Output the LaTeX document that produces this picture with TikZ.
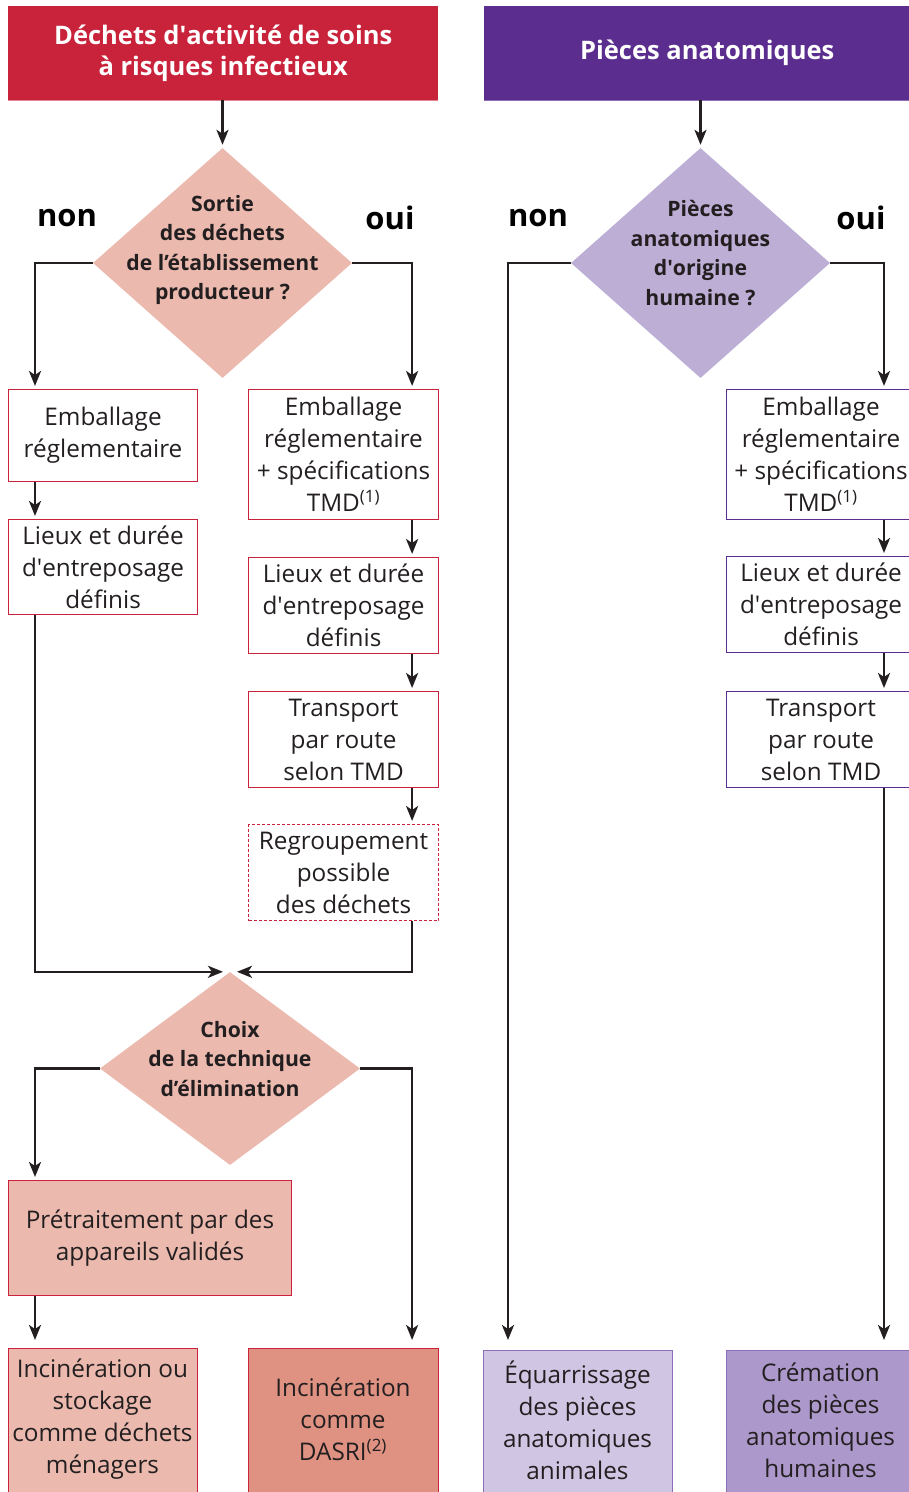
\documentclass[tikz,border=0pt]{standalone}
\usepackage{fontspec}
\setmainfont{Open Sans}
\usetikzlibrary{shapes.geometric,arrows.meta,calc}
\definecolor{redA}{HTML}{C8233A}
\definecolor{purA}{HTML}{5B2D8E}
\definecolor{purB}{HTML}{8C6FB8}
\definecolor{pinkA}{HTML}{EBB9AE}
\definecolor{pinkB}{HTML}{E09282}
\definecolor{lavA}{HTML}{BCAED4}
\definecolor{lavB}{HTML}{D0C6E3}
\definecolor{lavC}{HTML}{AC98CA}
\definecolor{ink}{HTML}{231F20}
\newcommand{\sq}{\textquotesingle}
\begin{document}
\begin{tikzpicture}[x=1pt,y=-1pt,
  boxtxt/.style={font=\fontsize{24.3}{32}\selectfont,text=ink,align=center},
  rbox/.style={boxtxt,draw=redA,line width=1.1pt,inner sep=0pt,anchor=north west,minimum width=189pt},
  pbox/.style={boxtxt,draw=purA,line width=1.1pt,inner sep=0pt,anchor=north west,minimum width=189pt},
  header/.style={inner sep=0pt,anchor=north west,text=white,align=center,font=\bfseries\fontsize{25.5}{31}\selectfont},
  dia/.style={diamond,inner sep=0pt,draw=none},
  diatxt/.style={font=\bfseries\fontsize{21.2}{29.5}\selectfont,text=ink,align=center},
  yn/.style={font=\bfseries\fontsize{31}{32}\selectfont,text=black},
  arr/.style={draw=ink,line width=2.6pt,-{Stealth[length=15pt,width=12pt,inset=4pt]},shorten >=3pt},
  conn/.style={draw=ink,line width=2.6pt}
]
\useasboundingbox (0,0) rectangle (909,1492);
\clip (0,0) rectangle (909,1492);

% headers
\node[header,fill=redA,minimum width=430pt,minimum height=94pt] (h1) at (8,6)
  {Déchets d\sq activité de soins\\à risques infectieux};
\node[header,fill=purA,minimum width=446pt,minimum height=94pt] (h2) at (484,6)
  {Pièces anatomiques};
\draw[redA!55!white,line width=1pt] (h1.south west) -- (h1.south east);
\draw[purB,line width=1pt] (h2.south west) -- (h2.south east);

% diamonds
\node[dia,fill=pinkA,minimum width=259pt,minimum height=230pt] (d1) at (222.5,263) {};
\node[diatxt] (d1t) at (222.5,250) {Sortie\\des déchets\\de l’établissement\\producteur ?};
\node[dia,fill=lavA,minimum width=259pt,minimum height=230pt] (d2) at (700.5,263) {};
\node[diatxt] (d2t) at (700.5,253) {Pièces\\anatomiques\\d\sq origine\\humaine ?};
\node[dia,fill=pinkA,minimum width=260pt,minimum height=193pt] (d3) at (230,1068.5) {};
\node[diatxt] (d3t) at (230,1059) {Choix\\de la technique\\d’élimination};

% yes / no
\node[yn] (n1) at (67,218) {non};
\node[yn] (o1) at (390,218) {oui};
\node[yn] (n2) at (538,218) {non};
\node[yn] (o2) at (861,218) {oui};

% left column (non)
\node[rbox,minimum height=92pt] (a1) at (8,389) {Emballage\\réglementaire};
\node[rbox,minimum height=95pt] (a2) at (8,519) {Lieux et durée\\d\sq entreposage\\définis};

% middle column (oui)
\node[rbox,minimum width=190pt,minimum height=130pt] (b1) at (248,389) {Emballage\\réglementaire\\+ spécifications\\TMD\textsuperscript{(1)}};
\node[rbox,minimum width=190pt,minimum height=96pt] (b2) at (248,557) {Lieux et durée\\d\sq entreposage\\définis};
\node[rbox,minimum width=190pt,minimum height=96pt] (b3) at (248,691) {Transport\\par route\\selon TMD};
\node[rbox,minimum width=190pt,minimum height=96pt,dash pattern=on 3pt off 2pt] (b4) at (248,824) {Regroupement\\possible\\des déchets};

% elimination
\node[rbox,fill=pinkA,minimum width=283pt,minimum height=115pt] (c1) at (8,1180) {Prétraitement par des\\appareils validés};
\node[rbox,fill=pinkA,minimum height=160pt] (c2) at (8,1348) {};
\node[boxtxt] (c2t) at (102.5,1419) {Incinération ou\\stockage\\comme déchets\\ménagers};
\node[rbox,fill=pinkB,minimum width=190pt,minimum height=160pt] (c3) at (248,1348) {};
\node[boxtxt] (c3t) at (343,1419) {Incinération\\comme\\DASRI\textsuperscript{(2)}};

% right side
\node[pbox,minimum height=130pt] (f1) at (726,389) {Emballage\\réglementaire\\+ spécifications\\TMD\textsuperscript{(1)}};
\node[pbox,minimum height=96pt] (f2) at (726,556) {Lieux et durée\\d\sq entreposage\\définis};
\node[pbox,minimum height=96pt] (f3) at (726,691) {Transport\\par route\\selon TMD};
\node[pbox,draw=purB,fill=lavB,minimum height=160pt] (e1) at (483,1350) {};
\node[boxtxt] (e1t) at (577.5,1420) {Équarrissage\\des pièces\\anatomiques\\animales};
\node[pbox,draw=purB,fill=lavC,minimum height=160pt] (e2) at (726,1350) {};
\node[boxtxt] (e2t) at (820.5,1420) {Crémation\\des pièces\\anatomiques\\humaines};

% connectors
\draw[arr] (d1.north |- h1.south) -- (d1.north);
\draw[arr] (d2.north |- h2.south) -- (d2.north);
\draw[arr] (d1.west) -| ($(a1.north west)+(27,0)$);
\draw[arr] (d1.east) -| ($(b1.north east)+(-27,0)$);
\draw[arr] ($(a1.south west)+(27,0)$) -- ($(a2.north west)+(27,0)$);
\draw[arr,shorten >=7pt] ($(a2.south west)+(27,0)$) |- (d3.north);
\draw[arr] ($(b1.south east)+(-27,0)$) -- ($(b2.north east)+(-27,0)$);
\draw[arr] ($(b2.south east)+(-27,0)$) -- ($(b3.north east)+(-27,0)$);
\draw[arr] ($(b3.south east)+(-27,0)$) -- ($(b4.north east)+(-27,0)$);
\draw[arr,shorten >=7pt] ($(b4.south east)+(-27,0)$) |- (d3.north);
\draw[arr] (d3.west) -| ($(c1.north west)+(27,0)$);
\draw[arr,shorten >=8pt] (d3.east) -| ($(c3.north east)+(-27,0)$);
\draw[arr,shorten >=8pt] ($(c1.south west)+(27,0)$) -- ($(c2.north west)+(27,0)$);
\draw[arr,shorten >=10pt] (d2.west) -| ($(e1.north west)+(25,0)$);
\draw[arr] (d2.east) -| ($(f1.north west)+(158,0)$);
\draw[arr] ($(f1.south west)+(158,0)$) -- ($(f2.north west)+(158,0)$);
\draw[arr] ($(f2.south west)+(158,0)$) -- ($(f3.north west)+(158,0)$);
\draw[arr,shorten >=10pt] ($(f3.south west)+(158,0)$) -- ($(e2.north west)+(158,0)$);
\end{tikzpicture}
\end{document}
